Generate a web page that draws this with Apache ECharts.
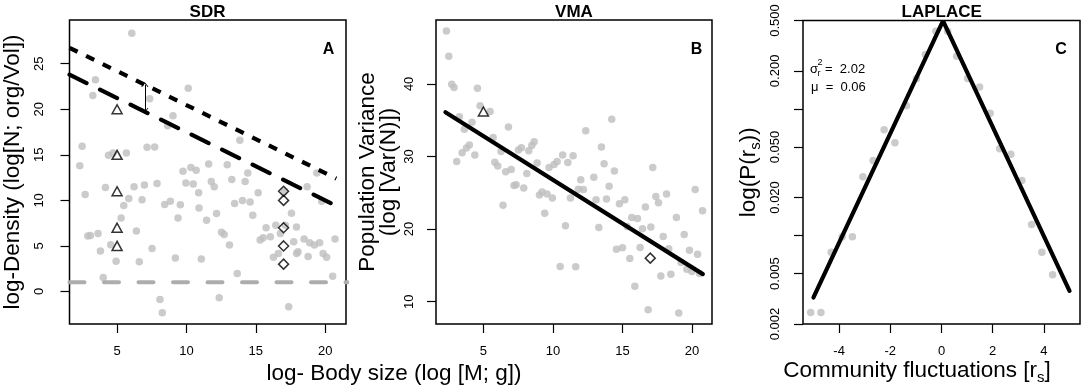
<!DOCTYPE html>
<html>
<head>
<meta charset="utf-8">
<script src="https://cdn.jsdelivr.net/npm/echarts@6.0.0/dist/echarts.min.js"></script>
<style>
html, body { margin: 0; padding: 0; background: #fff; }
#chart { width: 1084px; height: 390px; }
</style>
</head>
<body>
<div id="chart"></div>
<script>
// ---- panel A: SDR (log body size vs log density) ----
var sdrX = [6.06, 3.44, 3.25, 7.35, 10.13, 9.03, 8.64, 13.85, 2.48, 7.16, 7.71, 4.38, 4.71, 5.67, 2.31, 9.75, 10.32, 10.7, 11.6, 12.94, 14.42, 19.4,
  13.27, 14.23, 11.79, 12.0, 9.96, 10.49, 7.88, 6.97, 6.22, 4.16, 2.7, 10.88, 15.17, 18.7, 17.04, 5.84, 6.8, 5.48, 8.43, 8.84,
  9.56, 10.91, 13.47, 14.04, 14.59, 19.75, 14.78, 12.17, 11.45, 9.39, 5.29, 17.57, 15.74, 16.44, 17.13, 17.93, 2.89, 3.08, 3.63, 6.39,
  12.53, 12.72, 13.1, 3.8, 4.54, 7.52, 15.31, 15.53, 16.05, 16.77, 17.73, 18.48, 18.88, 19.22, 19.6, 20.71, 16.63, 16.27, 17.94, 18.04,
  18.77, 19.85, 20.1, 4.93, 6.6, 9.2, 11.07, 13.66, 4.0, 20.54, 8.09, 8.26, 12.36, 17.37];
var sdrY = [28.35, 23.25, 21.5, 21.15, 22.3, 19.3, 18.2, 16.6, 15.95, 15.84, 15.87, 14.96, 15.2, 15.2, 13.8, 13.2, 13.6, 13.3, 13.98, 13.9, 13.0, 13.0,
  12.3, 12.07, 12.07, 11.5, 11.9, 11.8, 11.85, 11.7, 11.5, 11.4, 10.65, 10.84, 10.84, 11.5, 11.0, 10.2, 10.07, 9.45, 9.56, 9.9,
  9.53, 9.16, 9.67, 10.0, 9.82, 9.9, 8.36, 8.55, 7.82, 8.07, 8.07, 8.58, 7.0, 7.27, 7.27, 7.09, 6.1, 6.15, 6.36, 6.65,
  6.5, 6.25, 5.09, 4.44, 5.13, 4.73, 5.64, 5.89, 6.0, 6.36, 5.45, 5.75, 5.35, 5.09, 5.35, 5.75, 4.18, 3.75, 4.18, 4.36,
  3.85, 4.18, 3.75, 3.31, 3.27, 3.67, 3.56, 1.96, 1.53, 1.67, -0.87, -2.33, -0.69, -1.67];
var sdrTriX = 5, sdrTriY = [20, 15, 11, 7, 5];
var sdrDiaX = 17, sdrDiaY = [11, 10, 7, 5, 3];
var sdrUpper = [[1.57, 26.75], [20.8, 12.4]];
var sdrLower = [[1.57, 23.8], [20.5, 9.63]];
var sdrFloor = [[1.57, 1], [21.6, 1]];
var sdrArrowX = 7, sdrArrowY = [19.9, 22.7];

// ---- panel B: VMA (log body size vs population variance) ----
var vmaX = [2.34, 2.51, 2.72, 2.89, 4.57, 4.76, 5.48, 3.27, 4.18, 3.63, 6.8, 5.7, 6.27, 3.99, 3.78, 3.47, 4.38, 3.08, 5.82, 6.03,
  7.52, 7.73, 8.26, 8.48, 8.65, 8.86, 9.72, 10.08, 10.3, 10.7, 11.07, 11.45, 12.36, 14.23, 13.49, 13.68, 14.42, 17.18, 6.6, 7.0,
  8.12, 7.2, 7.35, 7.9, 6.41, 9.03, 9.22, 9.58, 9.96, 9.41, 11.26, 11.83, 12.19, 12.0, 12.94, 14.04, 13.1, 13.85, 14.78, 15.17,
  10.9, 13.3, 10.52, 11.64, 15.67, 16.08, 16.65, 17.4, 17.59, 18.17, 18.88, 20.23, 20.76, 16.44, 17.04, 17.93, 19.44, 14.57, 15.0, 16.27,
  15.53, 18.33, 19.82, 20.4, 19.22, 19.63, 19.99, 20.54, 17.76, 18.48, 15.89, 16.85, 19.05, 15.34];
var vmaY = [47.27, 43.8, 39.95, 39.5, 39.4, 37.0, 36.2, 35.46, 34.7, 33.75, 34.07, 32.6, 30.7, 31.6, 31.16, 30.5, 30.2, 29.3, 29.2, 28.7,
  30.88, 31.2, 30.8, 31.5, 32.04, 29.1, 28.5, 28.9, 29.3, 30.2, 29.16, 30.1, 33.56, 35.14, 31.3, 29.0, 28.0, 28.5, 27.9, 28.2,
  27.65, 25.99, 26.1, 25.67, 23.27, 24.7, 25.1, 24.84, 24.29, 22.2, 24.29, 25.5, 25.44, 26.8, 27.14, 25.9, 24.05, 24.15, 23.5, 24.05,
  20.46, 20.23, 14.84, 14.8, 21.6, 21.47, 23.04, 24.5, 23.64, 24.84, 21.6, 25.44, 22.53, 20.05, 20.28, 18.99, 19.26, 17.24, 17.42, 17.47,
  15.94, 17.28, 17.1, 16.54, 15.4, 14.47, 14.15, 13.9, 13.55, 13.78, 12.12, 8.9, 8.43, 20.37];
var vmaTri = [5, 36.2];
var vmaDia = [17, 16];
var vmaFit = [[2.27, 36.1], [20.78, 13.8]];

// ---- panel C: LAPLACE (community fluctuations) ----
var lapX = [-0.22, 0.24, -0.63, 0.59, -0.98, 1.02, 1.49, -1.37, 1.9, -2.24, -1.82, 2.27, 2.71, -2.67, -3.07, 3.14, 3.52, -3.88, -3.48, -4.31, 3.92, 4.34, -5.11, -4.71];
var lapP = [0.412, 0.412, 0.269, 0.261, 0.173, 0.174, 0.149, 0.106, 0.0925, 0.0684, 0.054, 0.0484, 0.0439, 0.0391, 0.0292, 0.0272, 0.0122, 0.0098, 0.0098, 0.00737, 0.00737, 0.00491, 0.00247, 0.00247];
var lapFitX = [-5, 0.06, 5];
var lapFitP = [0.00324, 0.4975, 0.00365];

// tick values
var sizeTicks = [5, 10, 15, 20];
var densTicks = [0, 5, 10, 15, 20, 25];
var varTicks = [10, 20, 30, 40];
var rTicks = [-4, -2, 0, 2, 4];
var pTicks = [0.002, 0.005, 0.01, 0.02, 0.05, 0.1, 0.2, 0.5];
var pLabels = [0.002, 0.005, 0.02, 0.05, 0.2, 0.5];

var FONT = '"Liberation Sans", Arial, Helvetica, sans-serif';
var DOT = '#bebebe';
var ARROW = 'path://M0,0 L10,10 L8.5,11.5 L0,3 L-8.5,11.5 L-10,10 Z';
var TICK = { color: '#000', width: 1.2 };

function pairs(xs, ys) { return xs.map(function (x, i) { return [x, ys[i]]; }); }
function atX(x, ys) { return ys.map(function (y) { return [x, y]; }); }

function xAx(gi, min, max, ticks) {
  return {
    type: 'value', gridIndex: gi, min: min, max: max,
    axisLine: { show: false, onZero: false }, splitLine: { show: false },
    axisTick: { show: true, length: 9, customValues: ticks, lineStyle: TICK },
    axisLabel: { customValues: ticks, margin: 21, fontSize: 13, color: '#000', fontFamily: FONT }
  };
}
function yAx(gi, min, max, ticks, margin, name, gap, extra) {
  var ax = {
    type: 'value', gridIndex: gi, min: min, max: max,
    axisLine: { show: false, onZero: false }, splitLine: { show: false },
    axisTick: { show: true, length: 9, customValues: ticks, lineStyle: TICK },
    axisLabel: { customValues: ticks, rotate: 90, margin: margin, fontSize: 13, color: '#000', fontFamily: FONT },
    name: name, nameLocation: 'middle', nameRotate: 90, nameGap: gap,
    nameTextStyle: { fontSize: 22.5, color: '#000', fontFamily: FONT, lineHeight: 23 }
  };
  for (var k in extra) ax[k] = extra[k];
  return ax;
}
function dots(xi, data) {
  return { type: 'scatter', xAxisIndex: xi, yAxisIndex: xi, data: data, symbolSize: 7.5,
    itemStyle: { color: DOT }, silent: true };
}
function openMark(xi, data, symbol, size) {
  return { type: 'scatter', xAxisIndex: xi, yAxisIndex: xi, data: data, symbol: symbol, symbolSize: size,
    itemStyle: { color: 'rgba(0,0,0,0)', borderColor: '#000', borderWidth: 1.5 }, silent: true, z: 4 };
}
function seg(xi, data, color, width, dash, cap) {
  return { type: 'line', xAxisIndex: xi, yAxisIndex: xi, data: data, symbol: 'none', silent: true, z: 3,
    lineStyle: { color: color, width: width, type: dash, cap: cap || 'butt' } };
}

var chart = echarts.init(document.getElementById('chart'));

var option = {
  animation: false,
  backgroundColor: '#fff',
  textStyle: { fontFamily: FONT },
  grid: [
    { left: 69, top: 20, width: 277, height: 304, show: true, borderColor: '#000', borderWidth: 1.5 },
    { left: 436, top: 20, width: 276, height: 304, show: true, borderColor: '#000', borderWidth: 1.5 },
    { left: 803, top: 20.5, width: 277, height: 303.5, show: true, borderColor: '#000', borderWidth: 1.5 }
  ],
  xAxis: [
    xAx(0, 1.57, 21.5, sizeTicks),
    xAx(1, 1.59, 21.44, sizeTicks),
    xAx(2, -5.41, 5.41, rTicks)
  ],
  yAxis: [
    yAx(0, -3.57, 29.8, densTicks, 24, 'log-Density (log[N; org/Vol])', 45.5, {}),
    yAx(1, 6.93, 48.8, varTicks, 20, 'Population Variance\n(log [Var(N)])', 37,
      { nameTextStyle: { fontSize: 22.5, color: '#000', fontFamily: FONT, lineHeight: 21 } }),
    yAx(2, 0.002, 0.5, pTicks, 21, '{a|log(P(r}{s|s}{a|))}', 40, {
      type: 'log', logBase: 10,
      axisLabel: { customValues: pLabels, rotate: 90, margin: 21, fontSize: 13, color: '#000', fontFamily: FONT,
        formatter: function (v) { return Number(v).toFixed(3); } },
      nameTextStyle: { color: '#000', fontFamily: FONT,
        rich: { a: { fontSize: 22.5, lineHeight: 24, padding: [0, 0, 3, 0], verticalAlign: 'bottom', fontFamily: FONT, color: '#000' },
                s: { fontSize: 15, lineHeight: 15, verticalAlign: 'bottom', fontFamily: FONT, color: '#000' } } }
    })
  ],
  series: [
    Object.assign(dots(0, pairs(sdrX, sdrY)), {
      markLine: { silent: true, animation: false, symbol: [ARROW, ARROW], symbolSize: [7, 5],
        label: { show: false }, lineStyle: { color: '#000', width: 1, type: 'solid' },
        data: [[{ coord: [sdrArrowX, sdrArrowY[0]] }, { coord: [sdrArrowX, sdrArrowY[1]] }]] }
    }),
    seg(0, sdrFloor, '#adadad', 4, [15, 19.5], 'round'),
    seg(0, sdrUpper, '#000', 4.2, [9, 9.5]),
    seg(0, sdrLower, '#000', 4.2, [19, 15], 'round'),
    openMark(0, atX(sdrTriX, sdrTriY), 'triangle', [10, 9]),
    openMark(0, atX(sdrDiaX, sdrDiaY), 'diamond', [10, 10]),

    dots(1, pairs(vmaX, vmaY)),
    seg(1, vmaFit, '#000', 4.2, 'solid', 'round'),
    openMark(1, [vmaTri], 'triangle', [10, 9]),
    openMark(1, [vmaDia], 'diamond', [10, 10]),

    dots(2, pairs(lapX, lapP)),
    seg(2, pairs(lapFitX, lapFitP), '#000', 4.2, 'solid', 'round')
  ],
  graphic: [
    { type: 'text', x: 207.5, y: 12.5, style: { text: 'SDR', font: 'bold 17px ' + FONT, align: 'center', verticalAlign: 'middle', fill: '#000' } },
    { type: 'text', x: 574, y: 12.5, style: { text: 'VMA', font: 'bold 17px ' + FONT, align: 'center', verticalAlign: 'middle', fill: '#000' } },
    { type: 'text', x: 941.7, y: 12.5, style: { text: 'LAPLACE', font: 'bold 17px ' + FONT, align: 'center', verticalAlign: 'middle', fill: '#000' } },
    { type: 'text', x: 328.5, y: 50, style: { text: 'A', font: 'bold 16px ' + FONT, align: 'center', verticalAlign: 'middle', fill: '#000' } },
    { type: 'text', x: 696.5, y: 50, style: { text: 'B', font: 'bold 16px ' + FONT, align: 'center', verticalAlign: 'middle', fill: '#000' } },
    { type: 'text', x: 1061, y: 50, style: { text: 'C', font: 'bold 16px ' + FONT, align: 'center', verticalAlign: 'middle', fill: '#000' } },
    { type: 'text', x: 394, y: 374, style: { text: 'log- Body size (log [M; g])', font: '22.5px ' + FONT, align: 'center', verticalAlign: 'middle', fill: '#000' } },
    { type: 'text', x: 917, y: 373, style: { text: '{a|Community fluctuations [r}{s|s}{a|]}', align: 'center', verticalAlign: 'middle',
      rich: { a: { fontSize: 22.5, lineHeight: 24, padding: [0, 0, 3, 0], verticalAlign: 'bottom', fontFamily: FONT, fill: '#000' },
              s: { fontSize: 15, lineHeight: 15, verticalAlign: 'bottom', fontFamily: FONT, fill: '#000' } } } },
    // sigma_r^2 = 2.02 / mu = 0.06
    { type: 'text', x: 810, y: 69, style: { text: '\u03c3', font: '13px ' + FONT, align: 'left', verticalAlign: 'middle', fill: '#000' } },
    { type: 'text', x: 817.5, y: 63, style: { text: '2', font: '9px ' + FONT, align: 'left', verticalAlign: 'middle', fill: '#000' } },
    { type: 'text', x: 817.5, y: 74, style: { text: 'r', font: '9px ' + FONT, align: 'left', verticalAlign: 'middle', fill: '#000' } },
    { type: 'text', x: 825, y: 69, style: { text: '=  2.02', font: '13px ' + FONT, align: 'left', verticalAlign: 'middle', fill: '#000' } },
    { type: 'text', x: 811, y: 87.5, style: { text: '\u03bc  =  0.06', font: '13px ' + FONT, align: 'left', verticalAlign: 'middle', fill: '#000' } }
  ]
};

chart.setOption(option);
</script>
</body>
</html>
